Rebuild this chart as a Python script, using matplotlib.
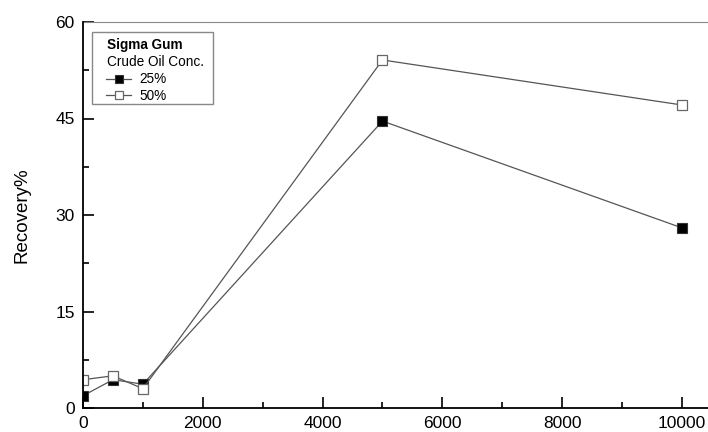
import matplotlib
matplotlib.use("Agg")
import matplotlib.pyplot as plt
from matplotlib.lines import Line2D
from matplotlib.patches import Rectangle
from matplotlib.ticker import MultipleLocator

plt.rcParams['font.family'] = ['Liberation Sans', 'DejaVu Sans']

# Gum concentration (ppm) and recovery (%)
concentration = [0, 500, 1000, 5000, 10000]
recovery_25 = [1.9, 4.4, 3.7, 44.6, 28.0]
recovery_50 = [4.4, 5.0, 3.0, 54.1, 47.1]
series_labels = ["25%", "50%"]
legend_title = "Sigma Gum"
legend_subtitle = "Crude Oil Conc."

W, H = 708, 432
fig = plt.figure(figsize=(W / 100, H / 100), dpi=100)
ax = fig.add_axes([83 / W, 1 - 408 / H, 1 - 83 / W, (408 - 22) / H])

line_color = "#555555"
styles = [
    dict(markerfacecolor="black", markeredgecolor="#333333", markeredgewidth=0.8),
    dict(markerfacecolor="white", markeredgecolor="#666666", markeredgewidth=0.9),
]
for values, label, st in zip([recovery_25, recovery_50], series_labels, styles):
    ax.plot(concentration, values, color=line_color, lw=0.9, marker="s",
            markersize=7, label=label, clip_on=True, zorder=3, **st)

ax.set_xlim(0, 10435)
ax.set_ylim(0, 60)
ax.xaxis.set_major_locator(MultipleLocator(2000))
ax.xaxis.set_minor_locator(MultipleLocator(1000))
ax.yaxis.set_major_locator(MultipleLocator(15))
ax.yaxis.set_minor_locator(MultipleLocator(7.5))
ax.tick_params(which="both", direction="in", width=1.2, labelsize=12.5,
               top=False, right=False)
ax.tick_params(which="major", length=8, pad=6)
ax.tick_params(which="minor", length=4)

for side in ("left", "bottom"):
    ax.spines[side].set_linewidth(1.3)
    ax.spines[side].set_zorder(4)
ax.spines["right"].set_visible(False)
ax.spines["top"].set_linewidth(0.8)
ax.spines["top"].set_color("#888888")

ax.set_ylabel("Recovery%", fontsize=13.5, labelpad=18)


# Legend box drawn in pixel units (origin top-left)
def fx(px):
    return px / W


def fy(py):
    return 1 - py / H


fig.add_artist(Rectangle((fx(92), fy(104)), fx(213) - fx(92), fy(32) - fy(104),
                         transform=fig.transFigure, facecolor="white",
                         edgecolor="#888888", lw=1.0, zorder=5))
fig.text(fx(107), fy(49), legend_title, fontsize=9.8, fontweight="bold",
         va="baseline", ha="left", zorder=6)
fig.text(fx(107), fy(66), legend_subtitle, fontsize=9.8,
         va="baseline", ha="left", zorder=6)
for i, (label, st) in enumerate(zip(series_labels, styles)):
    base = 83 + 16.5 * i
    mid = base - 4.5
    fig.add_artist(Line2D([fx(106), fx(131)], [fy(mid), fy(mid)],
                          transform=fig.transFigure, color=line_color, lw=0.9,
                          zorder=6))
    fig.add_artist(Line2D([fx(118.5)], [fy(mid)], transform=fig.transFigure,
                          marker="s", markersize=6, lw=0, zorder=7, **st))
    fig.text(fx(139), fy(base), label, fontsize=9.8, va="baseline",
             ha="left", zorder=6)

fig.savefig("out.png", dpi=100)
